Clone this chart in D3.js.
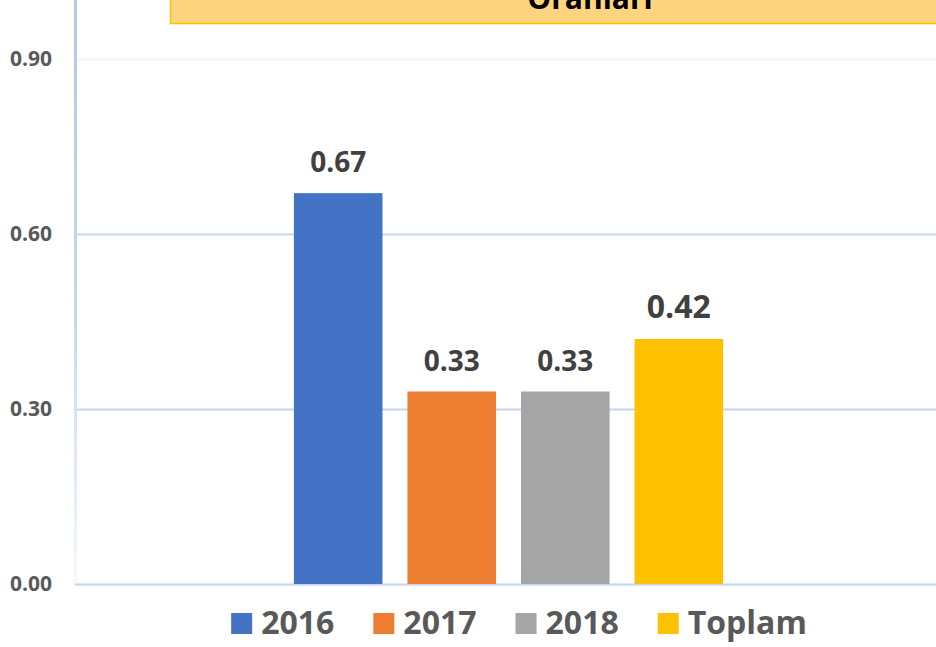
<!DOCTYPE html>
<html>
<head>
<meta charset="utf-8">
<script src="https://cdn.jsdelivr.net/npm/d3@7"></script>
<style>
  body { margin: 0; background: #fff; }
  text { font-family: "Open Sans", "DejaVu Sans", sans-serif; font-weight: bold; }
</style>
</head>
<body>
<div id="chart"></div>
<script>
var series = ["2016", "2017", "2018", "Toplam"];
var values = [0.67, 0.33, 0.33, 0.42];
var colors = ["#4472C4", "#ED7D31", "#A5A5A5", "#FFC000"];
var ticks = [0, 0.3, 0.6, 0.9];
var tickLabels = ["0.00", "0.30", "0.60", "0.90"];
var gridColors = ["#C5D4EE", "#C5D4EE", "#C9D8F0", "#F1F2F8"];
var title = "Oranları";

var W = 936, H = 647;
var svg = d3.select('#chart').append('svg')
  .attr('width', W)
  .attr('height', H);

var left = 75, right = 942, bottom = 584;

var y = d3.scaleLinear().domain([0, 0.9]).range([bottom, 59]);

var x0 = d3.scaleBand().domain([title]).range([left, right])
  .paddingInner(0).paddingOuter(0.51);
var x1 = d3.scaleBand().domain(series)
  .range([x0(title), x0(title) + x0.bandwidth()])
  .paddingInner(0.22).paddingOuter(0);

// gradient for the left axis line
var defs = svg.append('defs');
var grad = defs.append('linearGradient').attr('id', 'axisGrad')
  .attr('x1', 0).attr('y1', 0).attr('x2', 0).attr('y2', 1);
grad.append('stop').attr('offset', '0%').attr('stop-color', '#B4C7E7');
grad.append('stop').attr('offset', '55%').attr('stop-color', '#C9D8F0');
grad.append('stop').attr('offset', '100%').attr('stop-color', '#F6F8FD');

// gridlines
svg.selectAll('line.grid').data(ticks.slice(1))
  .enter().append('line')
  .attr('class', 'grid')
  .attr('x1', left).attr('x2', W)
  .attr('y1', function (d) { return Math.round(y(d)) + 0.5; })
  .attr('y2', function (d) { return Math.round(y(d)) + 0.5; })
  .attr('stroke', function (d, i) { return gridColors[i + 1]; })
  .attr('stroke-width', 2);

// axis lines
svg.append('rect')
  .attr('x', left - 1).attr('y', 0)
  .attr('width', 3).attr('height', bottom + 1)
  .attr('fill', 'url(#axisGrad)');
svg.append('line')
  .attr('x1', left).attr('x2', W)
  .attr('y1', bottom + 0.5).attr('y2', bottom + 0.5)
  .attr('stroke', gridColors[0])
  .attr('stroke-width', 2);

// y tick labels
svg.selectAll('text.tick').data(ticks)
  .enter().append('text')
  .attr('class', 'tick')
  .attr('x', 52)
  .attr('y', function (d) { return y(d) + 7; })
  .attr('text-anchor', 'end')
  .attr('fill', '#595959')
  .style('font-size', '21px')
  .text(function (d, i) { return tickLabels[i]; });

// bars
svg.selectAll('rect.bar').data(values)
  .enter().append('rect')
  .attr('class', 'bar')
  .attr('x', function (d, i) { return x1(series[i]); })
  .attr('y', function (d) { return y(d); })
  .attr('width', x1.bandwidth())
  .attr('height', function (d) { return bottom - y(d); })
  .attr('fill', function (d, i) { return colors[i]; });

// value labels (the total one is a bit bigger)
svg.selectAll('text.val').data(values)
  .enter().append('text')
  .attr('class', 'val')
  .attr('x', function (d, i) { return x1(series[i]) + x1.bandwidth() / 2; })
  .attr('y', function (d) { return y(d) - 21; })
  .attr('text-anchor', 'middle')
  .attr('fill', '#404040')
  .style('font-size', function (d, i) { return i == 3 ? '32px' : '28px'; })
  .text(function (d) { return d.toFixed(2); });

// title box, mostly off the top
svg.append('rect')
  .attr('x', 170.5).attr('y', -40)
  .attr('width', 800).attr('height', 63.5)
  .attr('fill', '#FFD47F')
  .attr('stroke', '#FFC000')
  .attr('stroke-width', 1.5);
svg.append('text')
  .attr('x', 590).attr('y', 9)
  .attr('text-anchor', 'middle')
  .attr('fill', '#000')
  .style('font-size', '30px')
  .text(title);

// legend
var legend = svg.append('g');
var lx = 0;
series.forEach(function (s, i) {
  var g = legend.append('g').attr('transform', 'translate(' + lx + ',0)');
  g.append('rect')
    .attr('x', 0).attr('y', 613)
    .attr('width', 21).attr('height', 21)
    .attr('fill', colors[i]);
  var t = g.append('text')
    .attr('x', 30).attr('y', 634)
    .attr('fill', '#595959')
    .style('font-size', '32px')
    .text(s);
  lx += 30 + t.node().getComputedTextLength() + 39;
});
var lw = lx - 39;
legend.attr('transform', 'translate(' + (519 - lw / 2) + ',0)');
</script>
</body>
</html>
